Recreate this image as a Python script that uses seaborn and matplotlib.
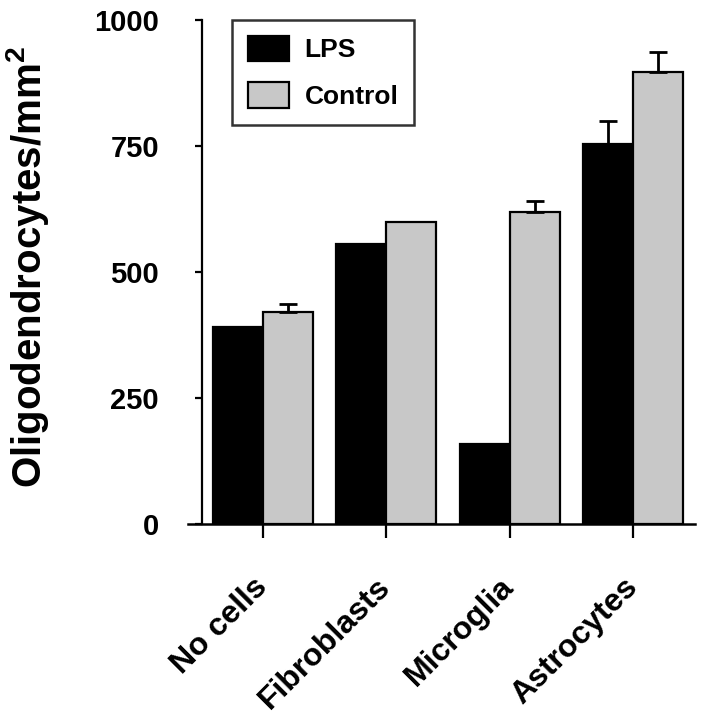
import numpy as np
import pandas as pd
import matplotlib
matplotlib.use("Agg")
import matplotlib.pyplot as plt
import seaborn as sns

categories = ["No cells", "Fibroblasts", "Microglia", "Astrocytes"]
conditions = ["LPS", "Control"]
lps_values = [390, 556, 159, 753]
control_values = [420, 600, 620, 896]
lps_errors = [0, 0, 0, 46]
control_errors = [16, 0, 20, 40]
y_ticks = [0, 250, 500, 750, 1000]
y_label = "Oligodendrocytes/mm$^{\\mathbf{2}}$"

df = pd.DataFrame({
    "category": categories * 2,
    "condition": ["LPS"] * 4 + ["Control"] * 4,
    "value": lps_values + control_values,
})

sns.set_style("ticks")
plt.rcParams["font.family"] = ["Liberation Sans", "DejaVu Sans"]
plt.rcParams["font.weight"] = "bold"
plt.rcParams["mathtext.fontset"] = "custom"
plt.rcParams["mathtext.bf"] = "Liberation Sans:bold"
plt.rcParams["mathtext.rm"] = "Liberation Sans:bold"
for k in ["text.color", "axes.labelcolor", "xtick.color", "ytick.color", "axes.edgecolor"]:
    plt.rcParams[k] = "black"

fig = plt.figure(figsize=(7.16, 7.2), dpi=100)
ax = fig.add_axes([188 / 716, 1 - 524 / 720, 507 / 716, 504 / 720])

palette = {"LPS": "black", "Control": "#c8c8c8"}
sns.barplot(data=df, x="category", y="value", hue="condition", order=categories,
            hue_order=conditions, palette=palette, saturation=1, width=0.81,
            edgecolor="black", linewidth=1.6, errorbar=None, ax=ax)

# error bars (upper only)
for cont, errs in zip(ax.containers, [lps_errors, control_errors]):
    for bar, e in zip(cont, errs):
        if e > 0:
            x = bar.get_x() + bar.get_width() / 2
            y = bar.get_height()
            ax.errorbar(x, y, yerr=[[0], [e]], fmt="none", ecolor="black",
                        elinewidth=2.0, capsize=6.5, capthick=2.0, zorder=5)

ax.set_ylim(0, 1000)
ax.set_xlim(-0.608, 3.503)
ax.set_yticks(y_ticks)
ax.set_yticklabels([str(t) for t in y_ticks])
ax.set_xticks(range(len(categories)))
ax.set_xticklabels(categories)
ax.set_xlabel("")
ax.set_ylabel(y_label, fontsize=29, fontweight="bold")
ax.yaxis.set_label_coords(-0.27, 0.51)

for s in ["top", "right"]:
    ax.spines[s].set_visible(False)
ax.spines["left"].set_position(("axes", 14 / 507))
ax.spines["left"].set_linewidth(1.6)
ax.spines["bottom"].set_linewidth(1.8)
ax.tick_params(axis="y", direction="out", length=5, width=1.6, pad=26, labelsize=21)
ax.tick_params(axis="x", direction="out", length=10, width=1.6, pad=32, labelsize=23)
for lab in ax.get_xticklabels():
    lab.set_rotation(45)
    lab.set_ha("right")
    lab.set_va("center")
    lab.set_rotation_mode("anchor")
    lab.set_fontweight("bold")
for lab in ax.get_yticklabels():
    lab.set_fontweight("bold")

leg = ax.legend(loc="upper left", bbox_to_anchor=(0.087, 1.0), borderaxespad=0,
                fontsize=19, frameon=True, fancybox=False, edgecolor="black",
                handlelength=1.55, handleheight=1.1, labelspacing=0.75,
                borderpad=0.6, handletextpad=0.6, title=None)
leg.get_frame().set_linewidth(1.8)
for t in leg.get_texts():
    t.set_fontweight("bold")

fig.savefig("out.png", dpi=100)
